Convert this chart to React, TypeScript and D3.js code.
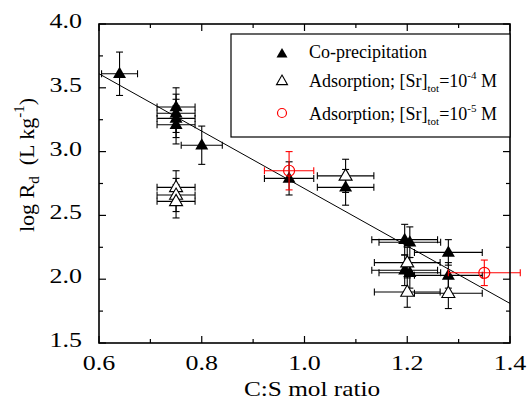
import React from "react";
import * as d3 from "d3";

// Co-precipitation (filled triangles): C:S ratio, log Rd, x error, y error
const coX = [0.64, 0.75, 0.75, 0.75, 0.75, 0.80, 0.97, 1.08, 1.195, 1.205, 1.195, 1.205, 1.28, 1.28];
const coY = [3.61, 3.35, 3.30, 3.26, 3.21, 3.05, 2.79, 2.72, 2.31, 2.29, 2.07, 2.05, 2.21, 2.03];
const coXErr = [0.035, 0.037, 0.037, 0.037, 0.037, 0.04, 0.048, 0.055, 0.064, 0.06, 0.064, 0.06, 0.066, 0.066];
const coYErr = [0.17, 0.15, 0.15, 0.15, 0.15, 0.15, 0.13, 0.14, 0.12, 0.12, 0.12, 0.12, 0.10, 0.10];

// Adsorption, [Sr]tot = 1e-4 M (open triangles)
const ad4X = [0.75, 0.75, 0.75, 1.08, 1.20, 1.20, 1.28];
const ad4Y = [2.72, 2.66, 2.61, 2.81, 2.13, 1.90, 1.89];
const ad4XErr = [0.037, 0.037, 0.037, 0.055, 0.064, 0.064, 0.066];
const ad4YErr = [0.13, 0.13, 0.13, 0.13, 0.12, 0.12, 0.12];

// Adsorption, [Sr]tot = 1e-5 M (red circles)
const ad5X = [0.97, 1.35];
const ad5Y = [2.85, 2.05];
const ad5XErr = [0.048, 0.07];
const ad5YErr = [0.15, 0.10];

// Linear fit
const fitX = [0.6, 1.4];
const fitY = [3.61, 1.81];

const xTicks = [0.6, 0.8, 1.0, 1.2, 1.4];
const yTicks = [1.5, 2.0, 2.5, 3.0, 3.5, 4.0];

const W = 531;
const H = 401;
const M = { left: 99, right: 510, top: 24, bottom: 343 };
const FONT = "'Liberation Serif', 'Times New Roman', serif";

export default function App() {
  const x = d3.scaleLinear().domain([0.6, 1.4]).range([M.left, M.right]);
  const y = d3.scaleLinear().domain([1.5, 4.0]).range([M.bottom, M.top]);

  const xMinor = d3.range(0.7, 1.4, 0.2);
  const yMinor = d3.range(1.75, 4.0, 0.5);

  const tri = (cx: number, cy: number, s = 13) => {
    const h = s * 0.866;
    return `M${cx},${cy - h * 0.62}L${cx + s / 2},${cy + h * 0.38}L${cx - s / 2},${cy + h * 0.38}Z`;
  };

  const errBars = (
    xs: number[], ys: number[], xe: number[], ye: number[], color: string, key: string
  ) =>
    xs.map((v, i) => {
      const cx = x(v), cy = y(ys[i]);
      const x0 = x(v - xe[i]), x1 = x(v + xe[i]);
      const y0 = y(ys[i] - ye[i]), y1 = y(ys[i] + ye[i]);
      const c = 3.5;
      return (
        <g key={`${key}${i}`} stroke={color} strokeWidth={1.1} fill="none">
          <line x1={x0} x2={x1} y1={cy} y2={cy} />
          <line x1={x0} x2={x0} y1={cy - c} y2={cy + c} />
          <line x1={x1} x2={x1} y1={cy - c} y2={cy + c} />
          <line x1={cx} x2={cx} y1={y0} y2={y1} />
          <line x1={cx - c} x2={cx + c} y1={y0} y2={y0} />
          <line x1={cx - c} x2={cx + c} y1={y1} y2={y1} />
        </g>
      );
    });

  const line = d3.line<number>().x((d) => x(d)).y((_, i) => y(fitY[i]));

  return (
    <svg width={W} height={H} style={{ position: "absolute", left: 0, top: 0, background: "#fff" }}>
      {/* fit line */}
      <path d={line(fitX) || ""} stroke="#000" strokeWidth={1} fill="none" />

      {/* co-precipitation */}
      {errBars(coX, coY, coXErr, coYErr, "#000", "ce")}
      {coX.map((v, i) => (
        <path key={`c${i}`} d={tri(x(v), y(coY[i]))} fill="#000" />
      ))}

      {/* adsorption 1e-4 */}
      {errBars(ad4X, ad4Y, ad4XErr, ad4YErr, "#000", "ae")}
      {ad4X.map((v, i) => (
        <path key={`a${i}`} d={tri(x(v), y(ad4Y[i]))} fill="#fff" stroke="#000" strokeWidth={1.1} />
      ))}

      {/* adsorption 1e-5 */}
      {errBars(ad5X, ad5Y, ad5XErr, ad5YErr, "#ff0000", "re")}
      {ad5X.map((v, i) => (
        <circle key={`r${i}`} cx={x(v)} cy={y(ad5Y[i])} r={5.5} fill="none" stroke="#ff0000" strokeWidth={1.2} />
      ))}

      {/* frame */}
      <rect x={M.left} y={M.top} width={M.right - M.left} height={M.bottom - M.top} fill="none" stroke="#000" strokeWidth={1.6} />

      {/* ticks */}
      {xTicks.map((t) => (
        <g key={`xt${t}`} stroke="#000" strokeWidth={1.2}>
          <line x1={x(t)} x2={x(t)} y1={M.bottom} y2={M.bottom - 7} />
          <line x1={x(t)} x2={x(t)} y1={M.top} y2={M.top + 7} />
        </g>
      ))}
      {xMinor.map((t) => (
        <g key={`xm${t}`} stroke="#000" strokeWidth={1.2}>
          <line x1={x(t)} x2={x(t)} y1={M.bottom} y2={M.bottom - 4} />
          <line x1={x(t)} x2={x(t)} y1={M.top} y2={M.top + 4} />
        </g>
      ))}
      {yTicks.map((t) => (
        <g key={`yt${t}`} stroke="#000" strokeWidth={1.2}>
          <line x1={M.left} x2={M.left + 7} y1={y(t)} y2={y(t)} />
          <line x1={M.right} x2={M.right - 7} y1={y(t)} y2={y(t)} />
        </g>
      ))}
      {yMinor.map((t) => (
        <g key={`ym${t}`} stroke="#000" strokeWidth={1.2}>
          <line x1={M.left} x2={M.left + 4} y1={y(t)} y2={y(t)} />
          <line x1={M.right} x2={M.right - 4} y1={y(t)} y2={y(t)} />
        </g>
      ))}

      {/* tick labels */}
      {xTicks.map((t) => (
        <text key={`xl${t}`} transform={`translate(${x(t)},370) scale(1.18,1)`} textAnchor="middle"
          fontFamily={FONT} fontSize={22}>{t.toFixed(1)}</text>
      ))}
      {yTicks.map((t) => (
        <text key={`yl${t}`} transform={`translate(82,${y(t) + 4}) scale(1.18,1)`} textAnchor="end"
          fontFamily={FONT} fontSize={22}>{t.toFixed(1)}</text>
      ))}

      {/* axis titles */}
      <text transform="translate(312,396) scale(1.15,1)" textAnchor="middle" fontFamily={FONT} fontSize={22}>C:S mol ratio</text>
      <text transform="translate(34,165) rotate(-90)" textAnchor="middle" fontFamily={FONT} fontSize={22}>
        log R<tspan fontSize={15} dy={5}>d</tspan>
        <tspan dy={-5} xmlSpace="preserve">{"  (L kg"}</tspan>
        <tspan fontSize={15} dy={-10}>-1</tspan>
        <tspan dy={10}>)</tspan>
      </text>

      {/* legend */}
      <rect x={231} y={34} width={M.right - 231} height={103} fill="#fff" stroke="#000" strokeWidth={1.2} />
      <path d={tri(282, 54, 11)} fill="#000" />
      <path d={tri(282, 81, 11)} fill="#fff" stroke="#000" strokeWidth={1.1} />
      <circle cx={282} cy={113} r={4.5} fill="none" stroke="#ff0000" strokeWidth={1.2} />
      <g fontFamily={FONT} fontSize={18} fill="#000">
        <text x={309} y={58}>Co-precipitation</text>
        <text x={309} y={87}>
          Adsorption; [Sr]<tspan fontSize={11} dy={5}>tot</tspan>
          <tspan dy={-5}>=10</tspan>
          <tspan fontSize={11} dy={-8}>-4</tspan>
          <tspan dy={8}> M</tspan>
        </text>
        <text x={309} y={120}>
          Adsorption; [Sr]<tspan fontSize={11} dy={5}>tot</tspan>
          <tspan dy={-5}>=10</tspan>
          <tspan fontSize={11} dy={-8}>-5</tspan>
          <tspan dy={8}> M</tspan>
        </text>
      </g>
    </svg>
  );
}
